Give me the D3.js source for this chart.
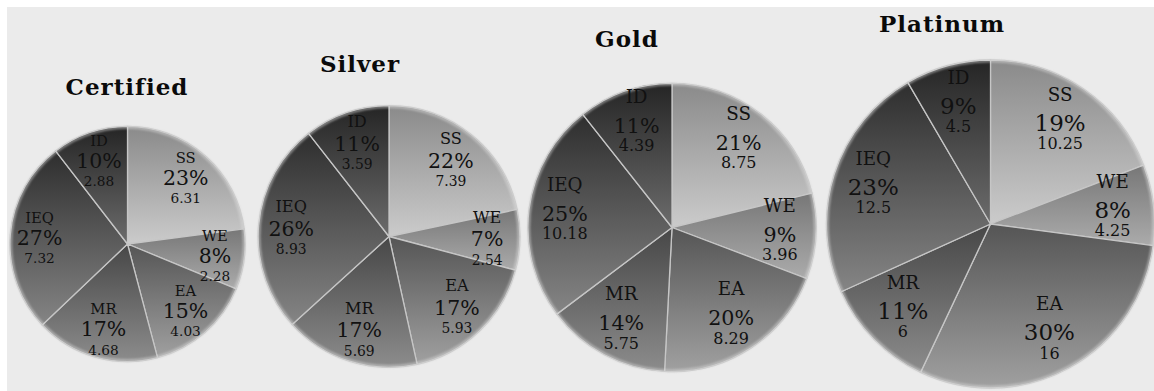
<!DOCTYPE html>
<html>
<head>
<meta charset="utf-8">
<script src="https://cdn.jsdelivr.net/npm/d3@7"></script>
<style>
  html, body { margin: 0; padding: 0; background: #ffffff; }
  svg { display: block; }
</style>
</head>
<body>
<svg id="chart" width="1154" height="391"></svg>
<script>
// LEED credit categories, clockwise from 12 o'clock
const categories = ["SS", "WE", "EA", "MR", "IEQ", "ID"];
const levels = ["Certified", "Silver", "Gold", "Platinum"];

// Average points earned per category at each certification level
const certifiedPoints = [6.31, 2.28, 4.03, 4.68, 7.32, 2.88];
const silverPoints    = [7.39, 2.54, 5.93, 5.69, 8.93, 3.59];
const goldPoints      = [8.75, 3.96, 8.29, 5.75, 10.18, 4.39];
const platinumPoints  = [10.25, 4.25, 16, 6, 12.5, 4.5];

// Share labels as published
const certifiedPct = ["23%", "8%", "15%", "17%", "27%", "10%"];
const silverPct    = ["22%", "7%", "17%", "17%", "26%", "11%"];
const goldPct      = ["21%", "9%", "20%", "14%", "25%", "11%"];
const platinumPct  = ["19%", "8%", "30%", "11%", "23%", "9%"];

const pointSets = [certifiedPoints, silverPoints, goldPoints, platinumPoints];
const pctSets = [certifiedPct, silverPct, goldPct, platinumPct];

// ---- layout ----
const W = 1154, H = 391;
const svg = d3.select("#chart");

// page frame
svg.append("rect").attr("width", W).attr("height", H).attr("fill", "#ffffff");
svg.append("rect").attr("x", 7).attr("y", 7).attr("width", W - 7).attr("height", H - 7).attr("fill", "#ebebeb");

const centers = [
  { cx: 127.5, cy: 244, tx: 127, ty: 95 },
  { cx: 389,   cy: 236.5, tx: 360, ty: 72 },
  { cx: 672,   cy: 227.5, tx: 627, ty: 47 },
  { cx: 990.5, cy: 224, tx: 942, ty: 32 }
];

const totals = pointSets.map(d => d3.sum(d));
// pie area proportional to total points
const radius = d3.scaleSqrt().domain([0, d3.max(totals)]).range([0, 164]);

// shading per category: dark at top, light at bottom
const shade = d3.scaleOrdinal()
  .domain(categories)
  .range([
    ["#8a8a8a", "#cbcbcb"],
    ["#777777", "#ababab"],
    ["#555555", "#a0a0a0"],
    ["#474747", "#8c8c8c"],
    ["#2e2e2e", "#858585"],
    ["#252525", "#6c6c6c"]
  ]);

const defs = svg.append("defs");
categories.forEach(c => {
  const g = defs.append("linearGradient")
    .attr("id", "grad-" + c)
    .attr("x1", 0).attr("y1", 0).attr("x2", 0).attr("y2", 1);
  g.append("stop").attr("offset", "0%").attr("stop-color", shade(c)[0]);
  g.append("stop").attr("offset", "100%").attr("stop-color", shade(c)[1]);
});
const blur = defs.append("filter").attr("id", "soft").attr("x", "-10%").attr("y", "-10%").attr("width", "120%").attr("height", "120%");
blur.append("feGaussianBlur").attr("stdDeviation", 1.2);

const pie = d3.pie().sort(null).value(d => d.v);
const fontFamily = "'DejaVu Serif', 'Liberation Serif', serif";

// label sizing grows with pie radius
const nameSize = d3.scaleLinear().domain([116, 130, 143, 164]).range([14.6, 16, 18.3, 18.3]).clamp(true);
const pctSize  = d3.scaleLinear().domain([116, 143, 164]).range([20.5, 20.5, 23]).clamp(true);
const valSize  = d3.scaleLinear().domain([116, 130, 143, 164]).range([13.7, 13.7, 16, 16]).clamp(true);
const gapTop   = d3.scaleLinear().domain([116, 130, 143, 164]).range([21.6, 23.3, 30, 30]).clamp(true);
const gapBot   = 18.3;

levels.forEach((level, i) => {
  const r = radius(totals[i]);
  const pos = centers[i];
  const data = categories.map((c, j) => ({ c, v: pointSets[i][j], pct: pctSets[i][j] }));
  const arcs = pie(data);
  const arc = d3.arc().innerRadius(0).outerRadius(r);
  const labelArc = d3.arc().innerRadius(r * 0.75).outerRadius(r * 0.75);

  const g = svg.append("g").attr("transform", `translate(${pos.cx},${pos.cy})`);

  // soft halo under the pie edge
  g.append("circle").attr("r", r).attr("fill", "#b0b0b0").attr("opacity", 0.5).attr("filter", "url(#soft)");

  g.selectAll("path.slice")
    .data(arcs)
    .join("path")
    .attr("class", "slice")
    .attr("d", arc)
    .attr("fill", d => `url(#grad-${d.data.c})`)
    .attr("stroke", "#c6c6c6")
    .attr("stroke-width", 1.3)
    .attr("stroke-linejoin", "round");

  // bevelled rim
  g.append("circle").attr("r", r - 1)
    .attr("fill", "none")
    .attr("stroke", "#dcdcdc")
    .attr("stroke-opacity", 0.55)
    .attr("stroke-width", 2.5)
    .attr("filter", "url(#soft)");

  const ns = nameSize(r), ps = pctSize(r), vs = valSize(r), gt = gapTop(r);
  const labels = g.selectAll("g.lab")
    .data(arcs)
    .join("g")
    .attr("class", "lab")
    .attr("transform", d => {
      const [x, y] = labelArc.centroid(d);
      return `translate(${x},${y})`;
    })
    .attr("font-family", fontFamily)
    .attr("fill", "#111111")
    .attr("text-anchor", "middle");

  labels.append("text").attr("y", ps * 0.36 - gt).attr("font-size", ns).text(d => d.data.c);
  labels.append("text").attr("y", ps * 0.36).attr("font-size", ps).text(d => d.data.pct);
  labels.append("text").attr("y", ps * 0.36 + gapBot).attr("font-size", vs).text(d => d.data.v);

  svg.append("text")
    .attr("x", pos.tx).attr("y", pos.ty)
    .attr("text-anchor", "middle")
    .attr("font-family", fontFamily)
    .attr("font-weight", "bold")
    .attr("font-size", 23)
    .attr("letter-spacing", 1)
    .attr("fill", "#0a0a0a")
    .text(level);
});
</script>
</body>
</html>
